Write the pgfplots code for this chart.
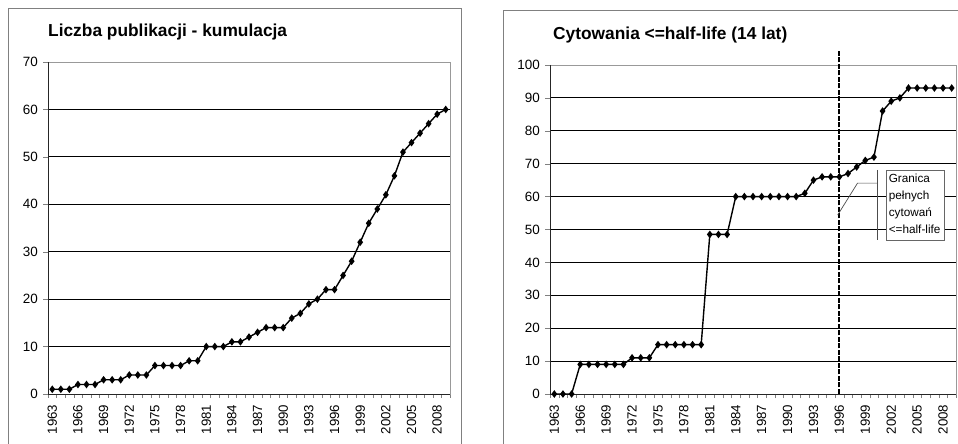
\documentclass[border=0pt]{standalone}
\usepackage{pgfplots}
\pgfplotsset{compat=1.18}
\usepackage{fontspec}
\setmainfont{Liberation Sans}

\pgfplotstableread{
year val
1963 1
1964 1
1965 1
1966 2
1967 2
1968 2
1969 3
1970 3
1971 3
1972 4
1973 4
1974 4
1975 6
1976 6
1977 6
1978 6
1979 7
1980 7
1981 10
1982 10
1983 10
1984 11
1985 11
1986 12
1987 13
1988 14
1989 14
1990 14
1991 16
1992 17
1993 19
1994 20
1995 22
1996 22
1997 25
1998 28
1999 32
2000 36
2001 39
2002 42
2003 46
2004 51
2005 53
2006 55
2007 57
2008 59
2009 60
}\publ

\pgfplotstableread{
year val
1963 0
1964 0
1965 0
1966 9
1967 9
1968 9
1969 9
1970 9
1971 9
1972 11
1973 11
1974 11
1975 15
1976 15
1977 15
1978 15
1979 15
1980 15
1981 48.5
1982 48.5
1983 48.5
1984 60
1985 60
1986 60
1987 60
1988 60
1989 60
1990 60
1991 60
1992 61
1993 65
1994 66
1995 66
1996 66
1997 67
1998 69
1999 71
2000 72
2001 86
2002 89
2003 90
2004 93
2005 93
2006 93
2007 93
2008 93
2009 93
}\cyt

\begin{document}
\begin{tikzpicture}
\useasboundingbox (0,0) rectangle (958bp,444bp);
\draw[black!50, line width=1bp] (8bp,-20bp) -- (8bp,435bp) -- (461bp,435bp) -- (461bp,-20bp);
\draw[black!50, line width=1bp] (503bp,-20bp) -- (503bp,433bp) -- (990bp,433bp);

\node[anchor=base west, font=\bfseries\fontsize{17.4}{17}\selectfont, inner sep=0pt] at (48bp,407bp) {Liczba publikacji - kumulacja};
\node[anchor=base west, font=\bfseries\fontsize{17.4}{17}\selectfont, inner sep=0pt] at (553bp,404bp) {Cytowania <=half-life (14 lat)};

\pgfplotsset{
 panel/.style={
  scale only axis,
  anchor=south west,
  xmin=1962.5, xmax=2009.5,
  xtick={1963,1966,...,2008},
  minor xtick={1962.5,1963.5,...,2009.5},
  major x tick style={draw=none},
  minor tick length=4bp,
  major tick length=5bp,
  tick align=outside,
  tick pos=left,
  axis line style={black!40},
  ymajorgrids,
  grid style={black, line width=0.8bp},
  xticklabel style={rotate=90, anchor=east, font=\fontsize{13.3}{13}\selectfont, inner sep=0pt, xshift=-5.5bp},
  yticklabel style={font=\fontsize{13.5}{13}\selectfont, inner sep=0pt, xshift=-5bp},
  /pgf/number format/assume math mode=true,
  /pgf/number format/1000 sep={},
  clip=false,
 },
 dat/.style={black, line width=1.4bp, mark=diamond*, mark size=2.7bp, mark options={solid}},
}

\begin{axis}[panel, at={(48bp,50bp)}, width=402bp, height=332bp,
  ymin=0, ymax=70, ytick={0,10,...,70}]
\draw[black!85, line width=0.8bp] (rel axis cs:0,1) -- (rel axis cs:0,0) -- (rel axis cs:1,0);
\addplot[dat] table[x=year, y=val] {\publ};
\end{axis}

\begin{axis}[panel, at={(550bp,50bp)}, width=406bp, height=329bp,
  ymin=0, ymax=100, ytick={0,10,...,100}]
\draw[black!85, line width=0.8bp] (rel axis cs:0,1) -- (rel axis cs:0,0) -- (rel axis cs:1,0);
\addplot[dat] table[x=year, y=val] {\cyt};
\draw[black, line width=2.2bp, dash pattern=on 5bp off 1.5bp] (axis cs:1996,0) -- (axis cs:1996,104.6);
\draw[black!70, line width=0.7bp] (axis cs:1995.8,54.4) -- (axis cs:1998.1,64.1) -- (axis cs:2000.4,64.1);
\draw[black!70, line width=0.7bp] (axis cs:2000.4,68.1) -- (axis cs:2000.4,46.8);
\draw[black!60, fill=white, line width=0.7bp] (axis cs:2001.4,46.8) rectangle (axis cs:2008.2,68.1);
\node[anchor=north west, align=left, inner sep=0pt, font=\fontsize{11.8}{17}\selectfont] at (axis cs:2001.7,66.8) {Granica\\pełnych\\cytowań\\<=half-life};
\end{axis}
\end{tikzpicture}
\end{document}
